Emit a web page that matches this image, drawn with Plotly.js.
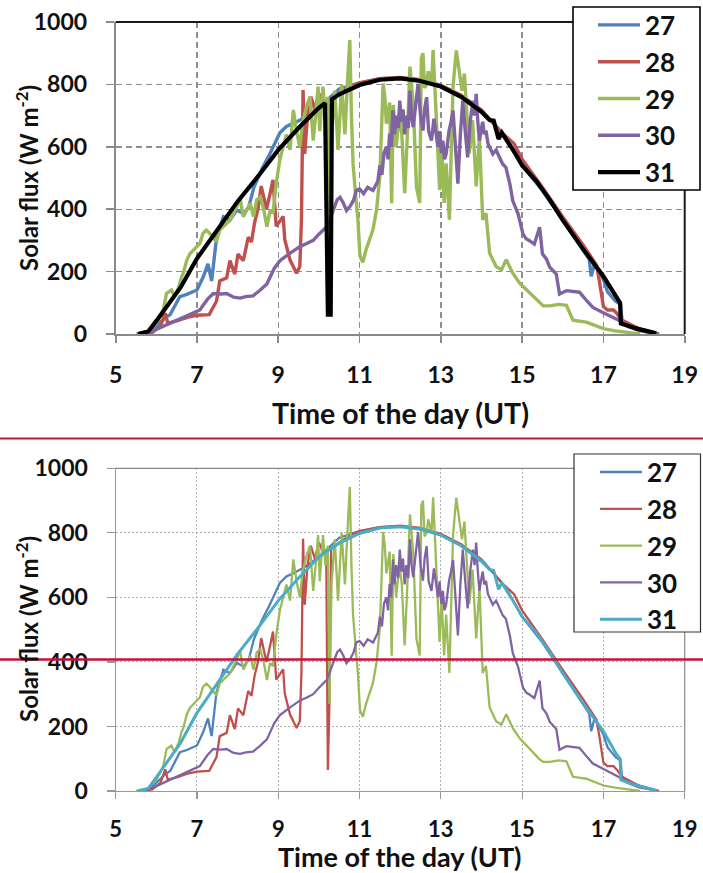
<!DOCTYPE html>
<html>
<head>
<meta charset="utf-8">
<script src="https://cdn.plot.ly/plotly-3.0.1.min.js"></script>
<style>html,body{margin:0;padding:0;background:#fff;}#chart{width:703px;height:873px;}</style>
</head>
<body>
<div id="chart"></div>
<script>
// ---------- DATA ----------
const seriesNames = ["27", "28", "29", "30", "31"];
const xTicks = [5, 7, 9, 11, 13, 15, 17, 19];
const yTicks = [0, 200, 400, 600, 800, 1000];

const t27 = [5.55,5.8,6.0,6.2,6.34,6.45,6.58,6.75,6.9,7.0,7.15,7.27,7.36,7.44,7.48,7.65,7.81,7.98,8.15,8.27,8.4,8.6,8.79,9.04,9.2,9.37,9.6,10.0,10.5,11.0,11.5,12.0,12.5,13.0,13.5,14.0,14.3,14.6,15.0,15.5,16.0,16.5,16.65,16.7,16.78,17.0,17.1,17.3,17.42,17.46,17.8,18.3];
const v27 = [0,5,25,50,62,90,120,127,135,141,182,225,170,255,307,376,365,397,386,406,470,530,577,645,665,675,690,725,785,805,818,821,812,793,760,712,675,630,540,460,365,270,240,185,225,175,136,105,95,40,20,2];

const t28 = [5.6,5.9,6.1,6.22,6.28,6.5,6.8,7.0,7.3,7.48,7.56,7.73,7.81,7.93,8.01,8.14,8.26,8.34,8.42,8.5,8.58,8.71,8.79,8.87,8.95,9.12,9.16,9.29,9.45,9.53,9.57,9.61,9.65,9.72,9.8,9.9,10.0,10.1,10.18,10.22,10.26,10.3,10.5,10.8,11.0,11.5,12.0,12.5,13.0,13.5,14.0,14.5,14.8,15.0,15.5,16.0,16.5,16.83,16.9,17.0,17.1,17.25,17.33,17.45,17.9,18.2];
const v28 = [0,5,25,67,35,42,55,60,62,105,170,180,235,192,256,235,310,295,359,400,474,400,445,494,345,377,302,237,195,216,365,782,577,700,760,720,770,740,745,65,280,750,770,795,805,818,822,815,797,765,718,645,610,560,470,375,285,221,170,88,77,77,66,45,15,4];

const t29 = [5.5,5.8,6.0,6.17,6.25,6.37,6.45,6.55,6.62,6.66,6.75,6.83,6.91,7.07,7.15,7.23,7.31,7.48,7.56,7.64,7.81,7.98,8.06,8.14,8.23,8.31,8.39,8.47,8.56,8.64,8.72,8.8,8.87,8.95,9.04,9.12,9.2,9.29,9.37,9.45,9.53,9.6,9.7,9.78,9.86,9.92,9.98,10.02,10.1,10.16,10.22,10.26,10.31,10.39,10.47,10.56,10.64,10.7,10.76,10.8,10.84,10.9,10.96,11.01,11.08,11.16,11.33,11.42,11.5,11.58,11.62,11.66,11.74,11.79,11.83,11.9,11.98,12.04,12.11,12.17,12.24,12.32,12.4,12.48,12.52,12.56,12.6,12.65,12.69,12.77,12.81,12.89,12.97,13.02,13.08,13.13,13.21,13.3,13.38,13.46,13.52,13.58,13.66,13.7,13.78,13.87,13.95,14.03,14.11,14.2,14.36,14.49,14.61,14.77,14.94,15.1,15.27,15.43,15.52,15.68,15.9,16.09,16.25,16.58,17.0,17.25,17.65,17.9];
const v29 = [0,8,35,77,130,141,120,150,183,194,237,258,269,290,323,333,323,296,333,344,365,408,435,376,397,419,376,430,440,400,344,397,387,483,560,600,640,590,718,650,600,680,731,760,620,700,793,650,793,700,760,270,640,780,590,800,640,800,942,700,546,450,365,250,230,270,335,400,507,803,763,674,742,419,734,600,700,640,451,620,857,740,471,420,884,900,789,800,842,800,910,687,462,600,420,547,366,793,909,835,780,835,654,580,686,473,633,366,387,259,216,206,238,195,163,142,120,98,90,90,95,92,44,38,17,11,4,0];

const t30 = [5.6,5.8,6.0,6.5,7.07,7.25,7.4,7.6,7.73,7.9,8.06,8.2,8.38,8.55,8.72,8.9,9.04,9.3,9.53,9.7,9.86,10.0,10.1,10.2,10.35,10.45,10.52,10.6,10.68,10.77,10.85,10.92,11.0,11.1,11.2,11.33,11.45,11.5,11.55,11.6,11.66,11.7,11.74,11.78,11.82,11.86,11.9,11.95,11.99,12.03,12.07,12.11,12.15,12.2,12.24,12.28,12.32,12.38,12.44,12.5,12.56,12.6,12.65,12.7,12.77,12.83,12.89,12.93,12.97,13.01,13.05,13.09,13.13,13.2,13.25,13.3,13.36,13.42,13.48,13.54,13.6,13.66,13.72,13.79,13.83,13.87,13.91,13.95,14.0,14.03,14.07,14.11,14.16,14.2,14.28,14.36,14.44,14.52,14.6,14.7,14.77,14.9,15.02,15.1,15.18,15.3,15.43,15.5,15.6,15.68,15.84,15.92,16.09,16.41,16.6,16.74,17.06,17.39,17.6,17.88,18.37];
const v30 = [0,5,15,45,77,110,130,128,130,118,115,120,122,140,160,210,235,260,280,290,300,320,332,345,396,430,438,420,396,410,428,460,465,450,470,460,490,540,510,580,600,560,642,600,717,640,700,660,748,680,720,640,700,660,780,700,663,740,802,700,652,720,759,650,620,690,641,600,650,580,620,560,577,650,680,716,600,482,640,748,650,566,680,748,700,770,680,620,660,680,640,652,610,600,577,590,566,545,534,480,427,385,321,305,299,288,342,257,240,214,192,128,139,134,105,85,64,43,25,11,0];

// day 31 as drawn in the upper version (with the drop near 10.25 UT)
const t31a = [5.55,5.8,6.0,6.3,6.6,7.0,7.5,8.0,8.5,9.0,9.5,9.8,10.0,10.15,10.22,10.29,10.32,10.5,11.0,11.5,12.0,12.5,13.0,13.5,14.0,14.2,14.3,14.42,14.5,14.8,15.0,15.35,15.68,16.0,16.5,17.0,17.32,17.41,17.43,17.8,18.3];
const v31a = [0,8,42,95,150,242,335,425,505,590,660,700,725,740,62,62,752,768,798,815,819,811,793,760,712,686,684,625,645,585,540,490,430,365,272,185,114,100,34,18,2];
// day 31 as drawn in the lower version (no drop)
const t31b = [5.55,5.8,6.0,6.3,6.6,7.0,7.5,8.0,8.5,9.0,9.5,9.8,10.0,10.15,10.32,10.5,11.0,11.5,12.0,12.5,13.0,13.5,14.0,14.2,14.3,14.42,14.5,14.8,15.0,15.35,15.68,16.0,16.5,17.0,17.32,17.41,17.43,17.8,18.3];
const v31b = [0,8,42,95,150,242,335,425,505,590,660,700,725,740,752,768,798,815,819,811,793,760,712,686,684,625,645,585,540,490,430,365,272,185,114,100,34,18,2];

// ---------- STYLE ----------
const W = 703, H = 873;
const FONT = 'Lato, "Open Sans", "DejaVu Sans", sans-serif';
const colorsTop = ["#4F81BD", "#C0504D", "#9BBB59", "#8064A2", "#000000"];
const colorsBot = ["#4F81BD", "#C0504D", "#9BBB59", "#8064A2", "#4BACC6"];
const px = v => v / W;          // horizontal pixel -> paper
const py = v => 1 - v / H;      // vertical pixel -> paper

const topData = [[t27, v27], [t28, v28], [t29, v29], [t30, v30], [t31a, v31a]];
const botData = [[t27, v27], [t28, v28], [t29, v29], [t30, v30], [t31b, v31b]];

const traces = [];
topData.forEach((d, i) => {
  traces.push({
    type: 'scatter', mode: 'lines', x: d[0], y: d[1], name: seriesNames[i],
    xaxis: 'x', yaxis: 'y', legend: 'legend',
    line: {color: colorsTop[i], width: i === 4 ? 4.2 : 3.4}, hoverinfo: 'skip'
  });
});
botData.forEach((d, i) => {
  traces.push({
    type: 'scatter', mode: 'lines', x: d[0], y: d[1], name: seriesNames[i],
    xaxis: 'x2', yaxis: 'y2', legend: 'legend2',
    line: {color: colorsBot[i], width: i === 4 ? 3 : 2.3}, hoverinfo: 'skip'
  });
});

const xDom = [px(115.7), px(684.7)];
function xAxis(anchor, top) {
  return {
    domain: xDom, anchor: anchor, range: [5, 19], tickvals: xTicks, ticktext: xTicks.map(String),
    showgrid: true, gridcolor: top ? '#8f8f8f' : '#b0b0b0', gridwidth: top ? 1.4 : 1,
    griddash: top ? '6px,4px' : '2px,2px',
    showline: true, linecolor: top ? '#8a8a8a' : '#999', linewidth: top ? 2 : 1.2,
    ticks: 'outside', ticklen: 7, tickwidth: top ? 1.6 : 1.2, tickcolor: top ? '#8a8a8a' : '#999',
    zeroline: false, ticklabelstandoff: top ? 12 : 11,
    tickfont: {family: FONT, size: top ? 23 : 22, color: '#111', weight: 700}, fixedrange: true
  };
}
function yAxis(anchor, dom, top) {
  return {
    domain: dom, anchor: anchor, range: [0, 1000], tickvals: yTicks,
    showgrid: true, gridcolor: top ? '#8f8f8f' : '#b0b0b0', gridwidth: top ? 1.4 : 1,
    griddash: top ? '6px,4px' : '2px,2px',
    showline: true, linecolor: top ? '#8a8a8a' : '#999', linewidth: top ? 2 : 1.2,
    ticks: 'outside', ticklen: 8, tickwidth: top ? 1.6 : 1.2, tickcolor: top ? '#8a8a8a' : '#999',
    zeroline: false, ticklabelstandoff: 14,
    tickfont: {family: FONT, size: 23, color: '#111', weight: 700}, fixedrange: true
  };
}

const yTitleFont = {family: FONT, size: 24, color: '#111', weight: 700};
const xTitleFont = {family: FONT, size: 28.5, color: '#111', weight: 700};
const xTitleFont2 = {family: FONT, size: 27, color: '#111', weight: 700};
const legFont = {family: FONT, size: 26, color: '#111', weight: 700};

const layout = {
  width: W, height: H, margin: {l: 0, r: 0, t: 0, b: 0},
  paper_bgcolor: '#fff', plot_bgcolor: 'rgba(0,0,0,0)', showlegend: true,
  xaxis: xAxis('y', true),
  yaxis: yAxis('x', [py(334), py(22)], true),
  xaxis2: xAxis('y2', false),
  yaxis2: yAxis('x2', [py(791), py(468.3)], false),
  legend: {x: px(593), y: py(1.5), xanchor: 'left', yanchor: 'top', bgcolor: 'rgba(0,0,0,0)',
           borderwidth: 0, font: legFont, itemwidth: 42, tracegroupgap: 0},
  legend2: {x: px(595), y: py(448.6), xanchor: 'left', yanchor: 'top', bgcolor: 'rgba(0,0,0,0)',
           borderwidth: 0, font: legFont, itemwidth: 42, tracegroupgap: 0},
  shapes: [
    // frame edges (top / right) of upper plot
    {type: 'line', xref: 'x domain', yref: 'y domain', x0: 0, x1: 1, y0: 1, y1: 1, line: {color: '#1a1a1a', width: 2}, layer: 'above'},
    {type: 'line', xref: 'x domain', yref: 'y domain', x0: 1, x1: 1, y0: 0, y1: 1, line: {color: '#1a1a1a', width: 2}, layer: 'above'},
    // frame edges (top / right) of lower plot
    {type: 'line', xref: 'x2 domain', yref: 'y2 domain', x0: 0, x1: 1, y0: 1, y1: 1, line: {color: '#888', width: 1.2}, layer: 'above'},
    {type: 'line', xref: 'x2 domain', yref: 'y2 domain', x0: 1, x1: 1, y0: 0, y1: 1, line: {color: '#888', width: 1.2}, layer: 'above'},
    // legend boxes
    {type: 'rect', xref: 'paper', yref: 'paper', x0: px(573), x1: px(700), y0: py(190), y1: py(7),
     line: {color: '#000', width: 1.6}, fillcolor: '#fff', layer: 'above'},
    {type: 'rect', xref: 'paper', yref: 'paper', x0: px(574), x1: px(700.5), y0: py(632), y1: py(454),
     line: {color: '#333', width: 1.2}, fillcolor: '#fff', layer: 'above'},
    // red separator lines
    {type: 'line', xref: 'paper', yref: 'paper', x0: 0, x1: 1, y0: py(438.5), y1: py(438.5), line: {color: '#C0143C', width: 2}, layer: 'above'},
    {type: 'line', xref: 'paper', yref: 'paper', x0: 0, x1: 1, y0: py(659.5), y1: py(659.5), line: {color: '#C0143C', width: 2.5}, layer: 'above'}
  ],
  annotations: [
    {text: 'Solar flux (W m<sup>-2</sup>)', xref: 'paper', yref: 'paper', x: px(27), y: py(178), textangle: -90,
     showarrow: false, font: yTitleFont, xanchor: 'center', yanchor: 'middle'},
    {text: 'Time of the day (UT)', xref: 'paper', yref: 'paper', x: px(400), y: py(413),
     showarrow: false, font: xTitleFont, xanchor: 'center', yanchor: 'middle'},
    {text: 'Solar flux (W m<sup>-2</sup>)', xref: 'paper', yref: 'paper', x: px(27), y: py(629), textangle: -90,
     showarrow: false, font: yTitleFont, xanchor: 'center', yanchor: 'middle'},
    {text: 'Time of the day (UT)', xref: 'paper', yref: 'paper', x: px(400), y: py(856),
     showarrow: false, font: xTitleFont2, xanchor: 'center', yanchor: 'middle'}
  ]
};

Plotly.newPlot('chart', traces, layout, {staticPlot: true, displayModeBar: false});
</script>
</body>
</html>
